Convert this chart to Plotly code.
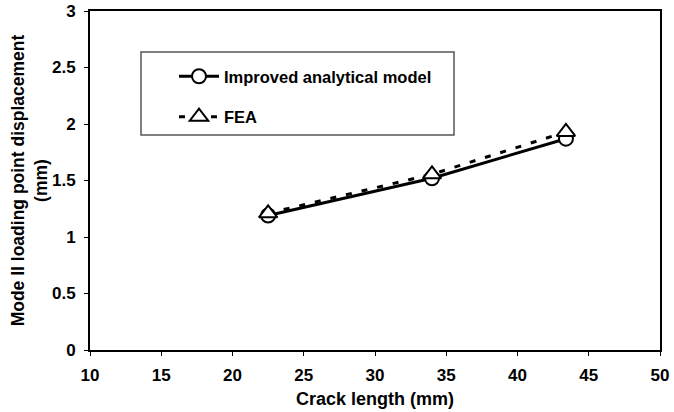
import plotly.graph_objects as go

crack_length = [22.5, 34.0, 43.4]
analytical = [1.19, 1.52, 1.87]
fea = [1.21, 1.555, 1.93]

x_ticks = [10, 15, 20, 25, 30, 35, 40, 45, 50]
y_ticks = [0, 0.5, 1, 1.5, 2, 2.5, 3]
x_tick_labels = ["10", "15", "20", "25", "30", "35", "40", "45", "50"]
y_tick_labels = ["0", "0.5", "1", "1.5", "2", "2.5", "3"]

FONT = "Liberation Sans, Arial, sans-serif"

W, H = 674, 412
PL, PR, PT, PB = 90, 660, 11, 350  # plot box in page px
PW, PH = PR - PL, PB - PT


def bold(size):
    return dict(family=FONT, size=size, color="black", weight="bold")


def px_x(x):
    return (x - PL) / PW


def px_y(y):
    return (PB - y) / PH


fig = go.Figure()
fig.add_trace(go.Scatter(
    x=crack_length, y=analytical, name="Improved analytical model",
    mode="lines+markers", legendgroup="a",
    line=dict(color="black", width=3),
    marker=dict(symbol="circle", size=14, color="white",
                line=dict(color="black", width=2)),
))
fig.add_trace(go.Scatter(
    x=crack_length, y=fea, name="FEA",
    mode="lines+markers", legendgroup="b",
    line=dict(color="black", width=3, dash="6px,10px"),
    marker=dict(symbol="triangle-up", size=16, color="white",
                line=dict(color="black", width=2)),
))

fig.add_shape(type="rect", xref="paper", yref="paper",
              x0=px_x(141), x1=px_x(454), y0=px_y(135), y1=px_y(52),
              line=dict(color="#555555", width=1.5), fillcolor="rgba(0,0,0,0)")

fig.update_layout(
    width=W, height=H,
    margin=dict(l=PL, r=W - PR, t=PT, b=H - PB, autoexpand=False),
    paper_bgcolor="white", plot_bgcolor="white",
    font=bold(17),
    showlegend=True,
    legend=dict(
        x=px_x(174), y=px_y(59), xanchor="left", yanchor="top",
        bgcolor="rgba(0,0,0,0)", borderwidth=0,
        font=bold(16.5),
        tracegroupgap=16, itemwidth=40,
    ),
    xaxis=dict(
        range=[10, 50], tickvals=x_ticks, ticktext=x_tick_labels,
        showgrid=False, zeroline=False, automargin=False,
        showline=True, linecolor="black", linewidth=2, mirror=True,
        ticks="outside", ticklen=4, tickwidth=1, tickcolor="black",
        ticklabelstandoff=5,
        tickfont=bold(17),
        title=dict(text="Crack length (mm)", standoff=8, font=bold(18)),
    ),
    yaxis=dict(
        range=[0, 3], tickvals=y_ticks, ticktext=y_tick_labels,
        showgrid=False, zeroline=False, automargin=False,
        showline=True, linecolor="black", linewidth=2, mirror=True,
        ticks="outside", ticklen=4, tickwidth=1, tickcolor="black",
        ticklabelstandoff=5,
        tickfont=bold(17),
        title=dict(text="Mode II loading point displacement<br>(mm)", standoff=0,
                   font=bold(17.5)),
    ),
)

# Remove the browser's default 8px page margin so the figure fills the window.
fig.write_html("out.html",
               config={"displayModeBar": False},
               post_script="document.body.style.margin='0';"
                           "document.body.style.overflow='hidden';")
